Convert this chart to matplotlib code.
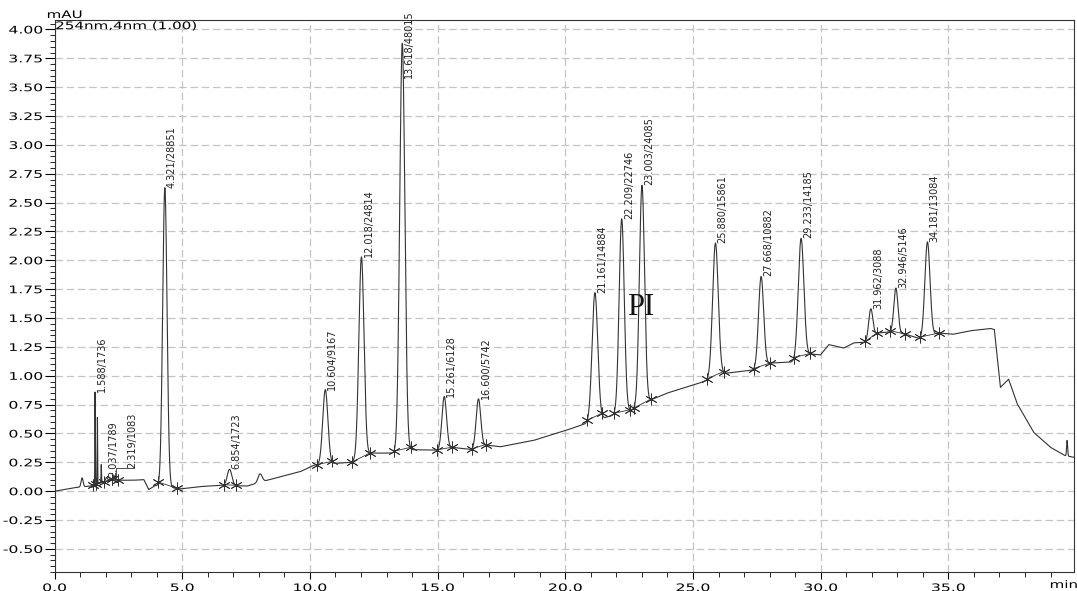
import numpy as np
import matplotlib
matplotlib.use('Agg')
import matplotlib.pyplot as plt
from matplotlib import patheffects
from matplotlib.transforms import Affine2D

# peak table: retention time (min), area, apex height (mAU), width (sigma, min)
rt = [1.588, 2.037, 2.319, 4.321, 6.854, 10.604, 12.018, 13.618, 15.261, 16.600,
      21.161, 22.209, 23.003, 25.880, 27.668, 29.233, 31.962, 32.946, 34.181]
area = [1736, 1789, 1083, 28851, 1723, 9167, 24814, 48015, 6128, 5742,
        14884, 22746, 24085, 15861, 10882, 14185, 3088, 5146, 13084]
apex = [0.86, 0.12, 0.13, 2.63, 0.19, 0.88, 2.03, 3.88, 0.82, 0.80,
        1.72, 2.36, 2.65, 2.15, 1.86, 2.19, 1.58, 1.76, 2.16]
sigma = [0.008, 0.04, 0.04, 0.085, 0.09, 0.10, 0.10, 0.10, 0.09, 0.09,
         0.11, 0.10, 0.10, 0.11, 0.10, 0.11, 0.08, 0.08, 0.10]
# integration start / end of each peak
peak_start = [1.50, 1.93, 2.26, 4.07, 6.63, 10.28, 11.65, 13.29, 14.98, 16.35,
              20.86, 21.90, 22.68, 25.55, 27.38, 28.95, 31.75, 32.73, 33.90]
peak_end = [1.62, 2.26, 2.50, 4.80, 7.09, 10.87, 12.37, 13.94, 15.57, 16.88,
            21.44, 22.55, 23.34, 26.20, 28.03, 29.60, 32.21, 33.32, 34.62]

# spikes and bumps that were not integrated
extra_rt = [1.08, 1.68, 1.83, 8.05, 39.65]
extra_apex = [0.115, 0.64, 0.23, 0.15, 0.44]
extra_sigma = [0.04, 0.008, 0.008, 0.08, 0.02]

# drifting baseline of the run
base_t = [0.0, 0.76, 1.41, 2.19, 3.1, 3.5, 3.69, 3.95, 4.93, 5.7, 6.5, 7.55,
          8.33, 9.11, 9.63, 10.15, 10.9, 11.65, 12.37, 13.29, 13.94, 14.98,
          15.57, 16.35, 16.88, 17.46, 18.76, 20.07, 20.86, 21.44, 21.9, 22.68,
          23.34, 23.99, 25.16, 25.55, 26.2, 27.38, 28.03, 28.95, 29.6, 29.99,
          30.32, 30.9, 31.3, 31.75, 32.21, 32.73, 33.32, 33.9, 34.62, 35.2,
          35.86, 36.65, 36.8, 37.04, 37.36, 37.69, 38.34, 39.0, 39.55, 40.0]
base_y = [0.0, 0.03, 0.045, 0.095, 0.095, 0.10, 0.015, 0.05, 0.02, 0.04, 0.05, 0.045,
          0.095, 0.14, 0.17, 0.225, 0.24, 0.25, 0.33, 0.33, 0.36, 0.355,
          0.38, 0.36, 0.40, 0.385, 0.44, 0.53, 0.59, 0.63, 0.66, 0.71,
          0.79, 0.85, 0.93, 0.96, 1.02, 1.05, 1.11, 1.12, 1.19, 1.18,
          1.27, 1.24, 1.285, 1.29, 1.37, 1.38, 1.36, 1.32, 1.37, 1.36,
          1.39, 1.41, 1.40, 0.90, 0.97, 0.76, 0.51, 0.38, 0.31, 0.29]

xticks = [0, 5, 10, 15, 20, 25, 30, 35]
yticks = [-0.5, -0.25, 0, 0.25, 0.5, 0.75, 1.0, 1.25, 1.5, 1.75, 2.0,
          2.25, 2.5, 2.75, 3.0, 3.25, 3.5, 3.75, 4.0]


class Stretch(patheffects.AbstractPathEffect):
    """Widen glyphs along the text direction (the plotter font is wide)."""

    def __init__(self, sx, anchor='left'):
        super().__init__()
        self.sx = sx
        self.anchor = anchor

    def draw_path(self, renderer, gc, tpath, affine, rgbFace=None):
        ext = tpath.get_extents()
        x0 = {'left': ext.x0, 'center': 0.5 * (ext.x0 + ext.x1), 'right': ext.x1}[self.anchor]
        tr = Affine2D().translate(-x0, 0).scale(self.sx, 1).translate(x0, 0) + affine
        renderer.draw_path(gc, tpath, tr, rgbFace)


t = np.linspace(0, 40, 16001)
base = np.interp(t, base_t, base_y)
signal = base.copy()
for r, h, s in zip(rt + extra_rt, apex + extra_apex, sigma + extra_sigma):
    signal += (h - np.interp(r, base_t, base_y)) * np.exp(-0.5 * ((t - r) / s) ** 2)

fig = plt.figure(figsize=(10.77, 5.91), dpi=100)
ax = fig.add_axes([54.5 / 1077, 19 / 591, 1019.5 / 1077, 552 / 591])

ax.plot(t, signal, color='#333333', lw=0.8, zorder=3)

# integration baselines with start/end marks
for s, e in zip(peak_start, peak_end):
    ys = np.interp([s, e], t, signal)
    ax.plot([s, e], ys, color='#333333', lw=0.6, zorder=3)
    ax.plot([s, e], ys, ls='none', marker=(6, 2, 0), ms=8.5, mew=0.6,
            color='#333333', zorder=4)

# peak labels "time/area"
for i, (r, a, h) in enumerate(zip(rt, area, apex)):
    txt = f'{r:.3f}/{a}'
    if r == 2.319:
        ax.plot([2.39, 2.39, 3.13], [0.11, 0.2, 0.2], color='#333333', lw=0.6)
        ax.text(2.85, 0.2, txt, rotation=90, fontsize=7, ha='left', va='top',
                rotation_mode='anchor', color='#222222')
        continue
    ax.annotate(txt, (r, min(h, 3.58)), xytext=(1.5, 0), textcoords='offset points',
                rotation=90, fontsize=7, ha='left', va='top',
                rotation_mode='anchor', color='#222222', annotation_clip=False)

ax.text(22.4, 1.525, 'PI', fontsize=22, family='Liberation Serif', color='#111111')

ax.set_xlim(0, 39.92)
ax.set_ylim(-0.70, 4.082)
ax.set_xticks(xticks, [f'{v:.1f}' for v in xticks])
ax.set_yticks(yticks, [f'{v:.2f}' for v in yticks])
ax.set_xticks(np.arange(0, 40, 1), minor=True)
ax.set_yticks(np.arange(-0.70, 4.08, 0.05), minor=True)
ax.tick_params(axis='y', which='major', direction='out', length=7.5, width=0.8, pad=1, labelsize=7.5)
ax.tick_params(axis='y', which='minor', direction='out', length=3.5, width=0.6)
ax.tick_params(axis='x', which='major', direction='out', length=5, width=0.8, pad=3, labelsize=7.5)
ax.tick_params(axis='x', which='minor', direction='out', length=3.5, width=0.6)
for lab in ax.get_yticklabels():
    lab.set_path_effects([Stretch(1.5, 'right')])
for lab in ax.get_xticklabels():
    lab.set_path_effects([Stretch(1.5, 'center')])

ax.grid(True, which='major', color='#c4c4c4', ls=(0, (6, 3)), lw=0.9)
ax.set_axisbelow(True)
for sp in ax.spines.values():
    sp.set_linewidth(0.8)
    sp.set_color('#333333')

ax.text(0.001, 0.998, '254nm,4nm (1.00)', transform=ax.transAxes, fontsize=7.5,
        ha='left', va='top', path_effects=[Stretch(1.45, 'left')])
fig.text(47 / 1077, 1 - 18 / 591, 'mAU', fontsize=7.5, ha='left', va='baseline',
         path_effects=[Stretch(1.45, 'left')])
fig.text(1050 / 1077, 3 / 591, 'min', fontsize=7.5, ha='left', va='baseline',
         path_effects=[Stretch(1.45, 'left')])

fig.savefig('out.png', dpi=100, facecolor='white')
